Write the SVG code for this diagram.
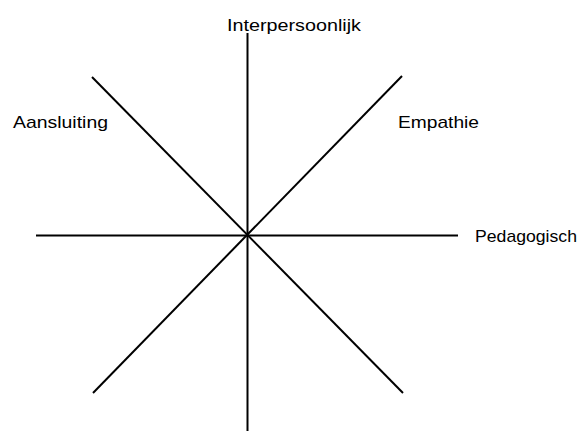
<svg xmlns="http://www.w3.org/2000/svg" width="582" height="431" viewBox="0 0 582 431">
<style>
.ln{stroke:#000;stroke-width:2;fill:none}
.lb{font-family:"Liberation Sans",Arial,sans-serif;font-size:17px;fill:#000}
</style>
<rect width="582" height="431" fill="#fff"/>
<g id="connectors">
<line class="ln" x1="247.5" y1="33" x2="247.5" y2="431"/>
<line class="ln" x1="36" y1="235.5" x2="458" y2="235.5"/>
<line class="ln" x1="92" y1="77" x2="403" y2="393"/>
<line class="ln" x1="402" y1="76" x2="93" y2="393"/>
</g>
<g id="interpersoonlijk"><text class="lb" x="227" y="31" textLength="134" lengthAdjust="spacingAndGlyphs">Interpersoonlijk</text></g>
<g id="aansluiting"><text class="lb" x="13" y="128" textLength="95" lengthAdjust="spacingAndGlyphs">Aansluiting</text></g>
<g id="empathie"><text class="lb" x="398" y="128" textLength="81" lengthAdjust="spacingAndGlyphs">Empathie</text></g>
<g id="pedagogisch"><text class="lb" x="475" y="242" textLength="102" lengthAdjust="spacingAndGlyphs">Pedagogisch</text></g>
</svg>
